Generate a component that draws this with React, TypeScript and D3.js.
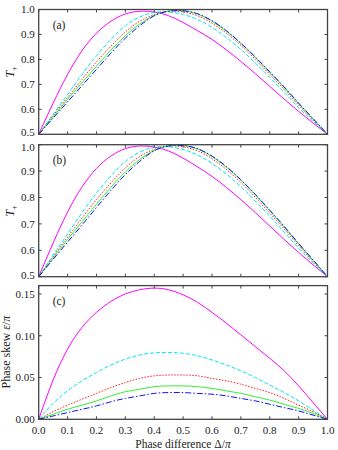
import React from 'react';
import * as d3 from 'd3';

// phase difference grid (Δ/π)
const delta = [0, 0.05, 0.1, 0.15, 0.2, 0.25, 0.3, 0.35, 0.4, 0.45, 0.5, 0.55, 0.6, 0.65, 0.7, 0.75, 0.8, 0.85, 0.9, 0.95, 1.0];

// panel (a): T+
const aMagenta = [0.5, 0.625, 0.74, 0.835, 0.905, 0.953, 0.982, 0.993, 0.99, 0.975, 0.948, 0.915, 0.88, 0.838, 0.792, 0.743, 0.692, 0.641, 0.592, 0.545, 0.5];
const aCyan = [0.5, 0.58, 0.66, 0.74, 0.815, 0.88, 0.935, 0.97, 0.988, 0.99, 0.98, 0.96, 0.928, 0.888, 0.84, 0.786, 0.728, 0.668, 0.607, 0.552, 0.5];
const aRed = [0.5, 0.575, 0.648, 0.72, 0.79, 0.853, 0.91, 0.953, 0.98, 0.993, 0.99, 0.975, 0.945, 0.905, 0.856, 0.8, 0.74, 0.68, 0.617, 0.558, 0.5];
const aGreen = [0.5, 0.57, 0.64, 0.707, 0.773, 0.837, 0.895, 0.942, 0.976, 0.994, 0.995, 0.982, 0.953, 0.913, 0.864, 0.808, 0.748, 0.687, 0.623, 0.561, 0.5];
const aBlue = [0.5, 0.565, 0.63, 0.695, 0.76, 0.825, 0.885, 0.935, 0.975, 0.993, 0.995, 0.983, 0.955, 0.915, 0.865, 0.81, 0.75, 0.69, 0.625, 0.563, 0.5];

// panel (b): T+
const bMagenta = [0.5, 0.628, 0.745, 0.84, 0.91, 0.957, 0.985, 0.995, 0.991, 0.976, 0.949, 0.916, 0.88, 0.838, 0.792, 0.743, 0.692, 0.641, 0.592, 0.545, 0.5];
const bCyan = [0.5, 0.582, 0.662, 0.742, 0.817, 0.882, 0.936, 0.972, 0.99, 0.992, 0.982, 0.961, 0.929, 0.889, 0.841, 0.787, 0.729, 0.669, 0.608, 0.553, 0.5];
const bRed = [0.5, 0.576, 0.65, 0.722, 0.792, 0.855, 0.912, 0.955, 0.982, 0.995, 0.992, 0.977, 0.947, 0.906, 0.857, 0.801, 0.741, 0.681, 0.618, 0.558, 0.5];
const bGreen = [0.5, 0.571, 0.641, 0.708, 0.775, 0.839, 0.897, 0.944, 0.978, 0.996, 0.997, 0.984, 0.955, 0.915, 0.866, 0.81, 0.75, 0.688, 0.624, 0.562, 0.5];
const bBlue = [0.5, 0.566, 0.631, 0.696, 0.762, 0.827, 0.887, 0.937, 0.977, 0.995, 0.997, 0.985, 0.957, 0.917, 0.867, 0.812, 0.752, 0.691, 0.626, 0.564, 0.5];

// panel (c): phase skew ε/π
const cMagenta = [0, 0.047, 0.084, 0.11, 0.128, 0.141, 0.15, 0.155, 0.157, 0.155, 0.149, 0.14, 0.128, 0.115, 0.101, 0.087, 0.073, 0.058, 0.04, 0.02, 0];
const cCyan = [0, 0.019, 0.034, 0.046, 0.056, 0.065, 0.072, 0.077, 0.0795, 0.08, 0.079, 0.076, 0.071, 0.065, 0.058, 0.05, 0.041, 0.032, 0.022, 0.011, 0];
const cRed = [0, 0.009, 0.017, 0.024, 0.031, 0.038, 0.044, 0.049, 0.052, 0.053, 0.053, 0.052, 0.049, 0.046, 0.042, 0.037, 0.032, 0.025, 0.017, 0.009, 0];
const cGreen = [0, 0.006, 0.012, 0.017, 0.022, 0.028, 0.033, 0.036, 0.039, 0.04, 0.04, 0.039, 0.037, 0.034, 0.031, 0.027, 0.023, 0.018, 0.013, 0.007, 0];
const cBlue = [0, 0.004, 0.008, 0.012, 0.016, 0.021, 0.025, 0.028, 0.031, 0.032, 0.032, 0.031, 0.03, 0.028, 0.025, 0.022, 0.018, 0.014, 0.01, 0.005, 0];

const xTicks = [0, 0.1, 0.2, 0.3, 0.4, 0.5, 0.6, 0.7, 0.8, 0.9, 1.0];
const tTicks = [0.5, 0.6, 0.7, 0.8, 0.9, 1.0];
const skewTicks = [0, 0.05, 0.1, 0.15];

const styles = [
  { color: '#ff00ff', dash: null },
  { color: '#00e8f0', dash: '4,2' },
  { color: '#ff2020', dash: '1.5,1.5' },
  { color: '#33ee33', dash: null },
  { color: '#1010ff', dash: '6,2,1.5,2' },
];

const font = 'Liberation Serif, Times New Roman, DejaVu Serif, serif';
const x = d3.scaleLinear().domain([0, 1]).range([38.7, 327.5]);

function Panel({ top, bottom, domain, yTicks, yFmt, series, tag, showX, nudge }) {
  const y = d3.scaleLinear().domain(domain).range([bottom, top]);
  const line = d3.line().x((d) => x(d[0])).y((d) => y(d[1])).curve(d3.curveNatural);
  const [x0, x1] = x.range();
  // keep the edge labels of stacked panels from touching
  const shift = (i) => (i === 0 ? -nudge[0] : i === yTicks.length - 1 ? nudge[1] : 0);
  return (
    <g>
      {series.map((s, i) => (
        <path key={i} d={line(delta.map((dv, j) => [dv, s[j]]))} fill="none"
          stroke={styles[i].color} strokeWidth={1} strokeDasharray={styles[i].dash || undefined} />
      ))}
      <rect x={x0} y={top} width={x1 - x0} height={bottom - top} fill="none" stroke="#444" strokeWidth={1.3} />
      {xTicks.map((t) => (
        <g key={'x' + t}>
          <line x1={x(t)} x2={x(t)} y1={bottom} y2={bottom - 3} stroke="#444" />
          <line x1={x(t)} x2={x(t)} y1={top} y2={top + 3} stroke="#444" />
          {showX && (
            <text x={x(t)} y={bottom + 15} textAnchor="middle" fontSize={11} style={{ fontFamily: font }} fill="#222">
              {t.toFixed(1)}
            </text>
          )}
        </g>
      ))}
      {yTicks.map((t, i) => (
        <g key={'y' + t}>
          <line x1={x0} x2={x0 + 3} y1={y(t)} y2={y(t)} stroke="#444" />
          <line x1={x1} x2={x1 - 3} y1={y(t)} y2={y(t)} stroke="#444" />
          <text x={x0 - 4} y={y(t) + 3.8 + shift(i)} textAnchor="end" fontSize={11} style={{ fontFamily: font }} fill="#222">
            {yFmt(t)}
          </text>
        </g>
      ))}
      <text x={x0 + 14} y={top + 19} fontSize={11.5} style={{ fontFamily: font }} fill="#222">{tag}</text>
    </g>
  );
}

export default function App() {
  const f1 = (t) => t.toFixed(1);
  const f2 = (t) => t.toFixed(2);
  return (
    <svg width={338} height={450} style={{ position: 'absolute', left: 0, top: 0 }}>
      <rect width={338} height={450} fill="#fff" />
      <Panel top={9.5} bottom={134.3} domain={[0.5, 1.0]} yTicks={tTicks} yFmt={f1} nudge={[2, 0]}
        series={[aMagenta, aCyan, aRed, aGreen, aBlue]} tag="(a)" showX={false} />
      <Panel top={144.7} bottom={276.7} domain={[0.5, 1.0]} yTicks={tTicks} yFmt={f1} nudge={[2, 2]}
        series={[bMagenta, bCyan, bRed, bGreen, bBlue]} tag="(b)" showX={false} />
      <Panel top={285.6} bottom={419.3} domain={[0, 0.16]} yTicks={skewTicks} yFmt={f2} nudge={[0, 0]}
        series={[cMagenta, cCyan, cRed, cGreen, cBlue]} tag="(c)" showX={true} />
      <text transform="translate(14,72) rotate(-90)" textAnchor="middle" fontSize={12} style={{ fontFamily: font }} fill="#222">
        <tspan fontStyle="italic">T</tspan><tspan fontSize={8} dy={3}>+</tspan>
      </text>
      <text transform="translate(14,211) rotate(-90)" textAnchor="middle" fontSize={12} style={{ fontFamily: font }} fill="#222">
        <tspan fontStyle="italic">T</tspan><tspan fontSize={8} dy={3}>+</tspan>
      </text>
      <text transform="translate(10,352) rotate(-90)" textAnchor="middle" fontSize={12} style={{ fontFamily: font }} fill="#222">
        Phase skew <tspan fontStyle="italic">ε</tspan>/<tspan fontStyle="italic">π</tspan>
      </text>
      <text x={183} y={447.5} textAnchor="middle" fontSize={11.5} style={{ fontFamily: font }} fill="#222">
        Phase difference Δ/<tspan fontStyle="italic">π</tspan>
      </text>
    </svg>
  );
}
